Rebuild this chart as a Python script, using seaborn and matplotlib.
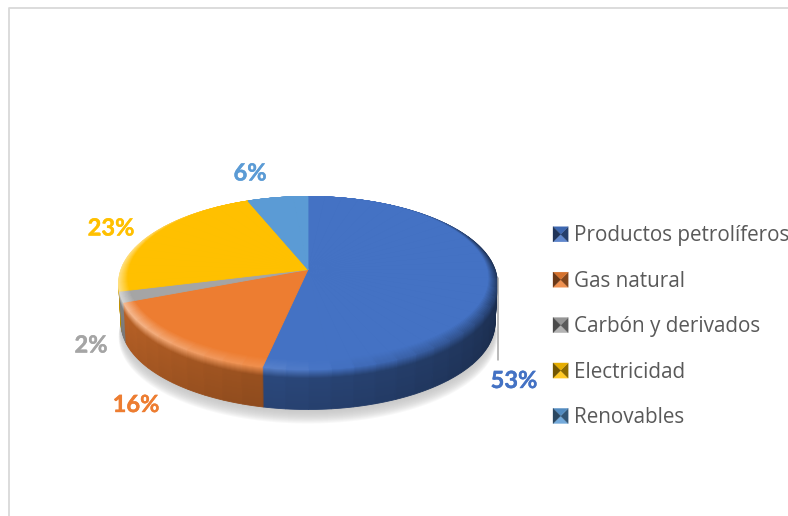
#!/usr/bin/env python3
# -*- coding: utf-8 -*-
"""Consumo de energía final por fuente: tarta 3D con leyenda a la derecha"""

import numpy as np
import matplotlib
matplotlib.use('Agg')
import matplotlib.pyplot as plt
import matplotlib.patheffects as pe
from matplotlib.colors import to_rgb
from matplotlib.legend_handler import HandlerBase
from matplotlib.patches import Patch, Polygon
import seaborn as sns

# Datos
fuentes = ['Productos petrolíferos', 'Gas natural', 'Carbón y derivados', 'Electricidad', 'Renovables']
porcentajes = [53.3, 15.7, 2.0, 23.0, 6.0]

# Estilo
colores = sns.color_palette(['#4472C4', '#ED7D31', '#A5A5A5', '#FFC000', '#5B9BD5'])
pos_etiquetas = [(514, 380.5), (136, 404.5), (91, 345), (111, 228), (250, 173)]

# Geometría del pastel en píxeles de la imagen
CX, CY = 308, 269.5
R_X, R_Y, K = 187, 84.4, 0.156
GROSOR = 40


def mezclar(a, b, t):
    """Mezcla lineal entre dos colores"""
    a, b = np.array(to_rgb(a)), np.array(to_rgb(b))
    return tuple(a + (b - a) * t)


def proyectar(angulos, bajada=0.0, encoge=0.0, escala=1.0):
    """Pasa puntos de la circunferencia a la imagen con perspectiva"""
    u, v = np.sin(angulos), np.cos(angulos)
    r = 1 - encoge * (1 - v) / 2
    u, v = u * r, v * r
    f = 1 / (1 + K * v)
    return CX + R_X * u * f * escala, CY - R_Y * v * f + bajada


def dibujar_sector(ax, inicio, fin, color, bajada=0.0, encoge=0.0, escala=1.0, z=2):
    """Dibuja un sector a partir de sus ángulos"""
    ang = np.linspace(inicio, fin, max(int((fin - inicio) * 60), 3))
    x, y = proyectar(ang, bajada=bajada, encoge=encoge, escala=escala)
    ax.fill(np.r_[CX, x], np.r_[CY + bajada, y], color=color, lw=0.6, zorder=z)


def luz(angulo):
    """Iluminación del canto: 0 a la derecha, 1 por la izquierda"""
    return np.clip((np.degrees(angulo) - 90) / 160, 0, 1)


def color_canto(base, angulo):
    return mezclar(base, 'black', 0.62 - 0.42 * luz(angulo))


def color_bisel(base, angulo):
    m = (-0.55 + 1.05 * luz(angulo)) * min(1, (1 - np.cos(angulo)) * 1.5)
    return mezclar(base, 'white', m) if m > 0 else mezclar(base, 'black', -m)


def trocear(inicio, fin, paso=np.radians(6)):
    """Parte un sector en arcos pequeños para sombrear por ángulo"""
    n = max(int(np.ceil((fin - inicio) / paso)), 1)
    bordes = np.linspace(inicio, fin, n + 1)
    return list(zip(bordes[:-1], bordes[1:]))


class HandlerPiramide(HandlerBase):
    """Marcador de leyenda con cuatro triángulos, como el bisel de Excel"""

    def create_artists(self, legend, orig_handle, xdescent, ydescent, width, height, fontsize, trans):
        base = orig_handle.get_facecolor()
        lado = height
        x0, y0 = -xdescent, -ydescent
        c = (x0 + lado / 2, y0 + lado / 2)
        esquinas = [(x0, y0), (x0 + lado, y0), (x0 + lado, y0 + lado), (x0, y0 + lado)]
        tonos = [mezclar(base, 'white', 0.15), mezclar(base, 'black', 0.45),
                 mezclar(base, 'black', 0.1), mezclar(base, 'black', 0.55)]
        artistas = []
        for i, tono in enumerate(tonos):
            tri = Polygon([esquinas[i], esquinas[(i + 1) % 4], c], closed=True,
                          facecolor=tono, edgecolor=tono, lw=0.2, transform=trans)
            artistas.append(tri)
        return artistas


def main():
    sns.set_theme(style='white')
    plt.rcParams['font.family'] = ['Open Sans', 'DejaVu Sans']

    fig = plt.figure(figsize=(7.88, 5.16), dpi=100)
    ax = fig.add_axes([0, 0, 1, 1])
    ax.set_xlim(0, 788)
    ax.set_ylim(516, 0)
    ax.axis('off')

    # Marco del gráfico
    ax.plot([9, 9, 788], [516, 7.5, 7.5], color='#D9D9D9', lw=1.3, zorder=1)

    # Sombra difusa bajo el pastel
    circ = np.linspace(0, 2 * np.pi, 200)
    for paso in np.arange(0, 16):
        x, y = proyectar(circ, bajada=GROSOR + 14 - paso, escala=1.0 - paso * 0.001)
        ax.fill(x, y, color='#BFBFBF', alpha=0.1, lw=0, zorder=1.5)

    # Ángulos de cada sector, en sentido horario desde arriba
    acumulado = np.cumsum([0] + porcentajes) / sum(porcentajes) * 2 * np.pi
    sectores = list(zip(acumulado[:-1], acumulado[1:]))

    # Lateral: capas de abajo hacia arriba
    for d in np.arange(GROSOR, -0.5, -1.0):
        t = d / GROSOR
        for i, (ini, fin) in enumerate(sectores):
            for a, b in trocear(ini, fin):
                medio = (a + b) / 2
                canto = mezclar(color_canto(colores[i], medio), 'black', 0.08 * t)
                if t < 0.22:
                    color = mezclar(color_bisel(colores[i], medio), canto, t / 0.22)
                else:
                    color = canto
                dibujar_sector(ax, a, b, color, bajada=d, escala=1 - 0.012 * t, z=2 + (GROSOR - d) * 0.01)

    # Cara superior con el bisel que solo se nota por delante
    for n, t in enumerate(np.linspace(0, 1, 10)):
        for i, (ini, fin) in enumerate(sectores):
            for a, b in trocear(ini, fin):
                color = mezclar(color_bisel(colores[i], (a + b) / 2), colores[i], t)
                dibujar_sector(ax, a, b, color, encoge=0.085 * t, z=3 + n * 0.01)

    # Línea guía de la etiqueta 53%
    ax.plot([498.5, 498.5], [278, 360], color='#A6A6A6', lw=1.1, zorder=4)

    # Etiquetas de porcentaje
    for valor, color, pos in zip(porcentajes, colores, pos_etiquetas):
        ax.text(pos[0], pos[1], f'{round(valor)}%', color=color, family=['Lato', 'DejaVu Sans'], fontweight='bold',
                fontsize=17, ha='center', va='center', zorder=5,
                path_effects=[pe.withStroke(linewidth=0.3, foreground=color)])

    # Leyenda
    handles = [Patch(facecolor=c, label=f) for c, f in zip(colores, fuentes)]
    leg = ax.legend(handles=handles, loc='upper left', bbox_to_anchor=(553 / 788, 1 - 225.5 / 516),
                    frameon=False, fontsize=14.9, labelcolor='#595959', borderpad=0, borderaxespad=0,
                    handlelength=0.75, handleheight=0.75, handletextpad=0.26, labelspacing=1.18,
                    handler_map={Patch: HandlerPiramide()})
    leg.set_zorder(5)

    fig.savefig('out.png', dpi=100)


if __name__ == "__main__":
    main()
